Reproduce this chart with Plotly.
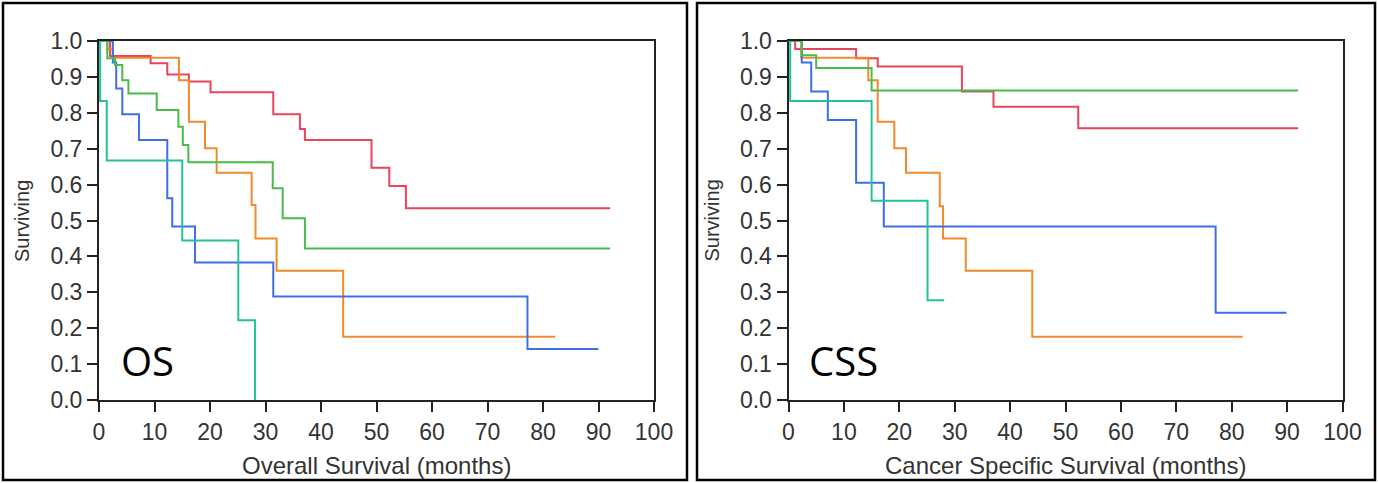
import plotly.graph_objects as go

W, H = 1378, 483

# ---------------- data (months, survival probability) ----------------
os_red_t = [0, 2.0, 9.3, 12.3, 16.2, 20.1, 31.4, 36.2, 37.1, 49.1, 52.3, 55.3, 92.1]
os_red_s = [1.0, 0.958, 0.938, 0.907, 0.887, 0.857, 0.796, 0.755, 0.724, 0.647, 0.596, 0.534, 0.534]
os_orange_t = [0, 1.5, 2.5, 14.4, 16.2, 19.1, 21.2, 27.5, 28.2, 32.0, 44.0, 82.2]
os_orange_s = [1.0, 0.977, 0.953, 0.891, 0.775, 0.701, 0.633, 0.543, 0.450, 0.360, 0.176, 0.176]
os_green_t = [0, 1.5, 2.9, 4.2, 5.3, 10.4, 14.3, 15.1, 16.1, 31.3, 33.1, 37.1, 92.1]
os_green_s = [1.0, 0.952, 0.933, 0.891, 0.854, 0.808, 0.761, 0.710, 0.662, 0.590, 0.506, 0.422, 0.422]
os_blue_t = [0, 2.5, 3.1, 4.2, 7.2, 12.3, 13.2, 17.3, 31.4, 77.2, 90.0]
os_blue_s = [1.0, 0.940, 0.868, 0.796, 0.724, 0.562, 0.483, 0.383, 0.288, 0.142, 0.142]
os_teal_t = [0, 0.2, 1.4, 15.0, 25.1, 28.1]
os_teal_s = [1.0, 0.833, 0.667, 0.444, 0.222, 0.0]

css_red_t = [0, 1.2, 12.2, 16.1, 31.3, 37.0, 52.3, 92.0]
css_red_s = [1.0, 0.978, 0.952, 0.929, 0.859, 0.817, 0.757, 0.757]
css_orange_t = [0, 2.3, 14.4, 16.1, 19.1, 21.2, 27.3, 27.9, 32.0, 44.0, 82.0]
css_orange_s = [1.0, 0.953, 0.891, 0.775, 0.701, 0.633, 0.540, 0.450, 0.360, 0.176, 0.176]
css_green_t = [0, 2.4, 5.0, 15.0, 92.0]
css_green_s = [1.0, 0.960, 0.925, 0.862, 0.862]
css_blue_t = [0, 2.4, 4.1, 7.1, 12.2, 17.2, 77.1, 89.9]
css_blue_s = [1.0, 0.940, 0.859, 0.780, 0.605, 0.483, 0.243, 0.243]
css_teal_t = [0, 0.3, 15.0, 25.1, 28.1]
css_teal_s = [1.0, 0.833, 0.555, 0.278, 0.278]

x_ticks = [0, 10, 20, 30, 40, 50, 60, 70, 80, 90, 100]
y_ticks = [0.0, 0.1, 0.2, 0.3, 0.4, 0.5, 0.6, 0.7, 0.8, 0.9, 1.0]
x_titles = ["Overall Survival (months)", "Cancer Specific Survival (months)"]
y_title = "Surviving"
panel_labels = ["OS", "CSS"]

RED, ORANGE, GREEN, BLUE, TEAL = "#e8455a", "#ef8b2c", "#47bd47", "#3f6fe6", "#22c497"

# ---------------- figure ----------------
fig = go.Figure()

panels = [
    [(os_red_t, os_red_s, RED), (os_orange_t, os_orange_s, ORANGE), (os_blue_t, os_blue_s, BLUE),
     (os_green_t, os_green_s, GREEN), (os_teal_t, os_teal_s, TEAL)],
    [(css_red_t, css_red_s, RED), (css_orange_t, css_orange_s, ORANGE), (css_blue_t, css_blue_s, BLUE),
     (css_green_t, css_green_s, GREEN), (css_teal_t, css_teal_s, TEAL)],
]
for i, series in enumerate(panels):
    xa = "x" if i == 0 else "x2"
    ya = "y" if i == 0 else "y2"
    for t, s, c in series:
        fig.add_trace(go.Scatter(x=t, y=s, mode="lines", line=dict(color=c, width=2, shape="hv"),
                                 xaxis=xa, yaxis=ya, showlegend=False, hoverinfo="skip"))

# plot area pixel boxes
px_boxes = [(99, 654), (788.5, 1342.5)]
top_px, bot_px = 41, 400
ydom = [1 - bot_px / H, 1 - top_px / H]

FONT = "Liberation Sans, Arial, sans-serif"
axis_common = dict(showgrid=False, zeroline=False, showline=True, linecolor="#222", linewidth=2,
                   mirror=True, ticks="outside", ticklen=10, tickwidth=2, tickcolor="#222",
                   tickfont=dict(family=FONT, size=23, color="#333"),
                   layer="below traces", automargin=False)

layout = dict(width=W, height=H, margin=dict(l=0, r=0, t=0, b=0, autoexpand=False),
              paper_bgcolor="white", plot_bgcolor="white", showlegend=False)
for i, (x0, x1) in enumerate(px_boxes):
    sfx = "" if i == 0 else "2"
    layout["xaxis" + sfx] = dict(axis_common, domain=[x0 / W, x1 / W], range=[0, 100],
                                 tickvals=x_ticks, ticktext=[str(v) for v in x_ticks],
                                 anchor="y" + sfx, fixedrange=True)
    layout["yaxis" + sfx] = dict(axis_common, domain=ydom, range=[0, 1.0],
                                 tickvals=y_ticks, ticktext=[f"{v:.1f}" for v in y_ticks],
                                 anchor="x" + sfx, fixedrange=True)
fig.update_layout(**layout)

# outer frames
frames = [(3, 687), (697, 1375)]
for x0, x1 in frames:
    fig.add_shape(type="rect", xref="paper", yref="paper", x0=x0 / W, x1=x1 / W,
                  y0=1 - 480 / H, y1=1 - 3 / H, line=dict(color="black", width=2.5))

# axis titles & panel labels
for i, (x0, x1) in enumerate(px_boxes):
    cx = (x0 + x1) / 2
    fig.add_annotation(x=cx / W, y=1 - 465 / H, xref="paper", yref="paper", text=x_titles[i],
                       showarrow=False, xanchor="center", yanchor="middle",
                       font=dict(family=FONT, size=24, color="#333"))
    fig.add_annotation(x=(x0 - 77) / W, y=1 - 221 / H, xref="paper", yref="paper", text=y_title,
                       textangle=-90, showarrow=False, xanchor="center", yanchor="middle",
                       font=dict(family=FONT, size=20, color="#333"))
    lx = [147.5, 843][i]
    fig.add_annotation(x=lx / W, y=1 - 360 / H, xref="paper", yref="paper", text=panel_labels[i],
                       showarrow=False, xanchor="center", yanchor="middle",
                       font=dict(family="Open Sans, sans-serif", size=40, color="black"))

fig.write_html("out.html", config={"displayModeBar": False},
               post_script="document.body.style.margin='0';document.body.style.overflow='hidden';")
